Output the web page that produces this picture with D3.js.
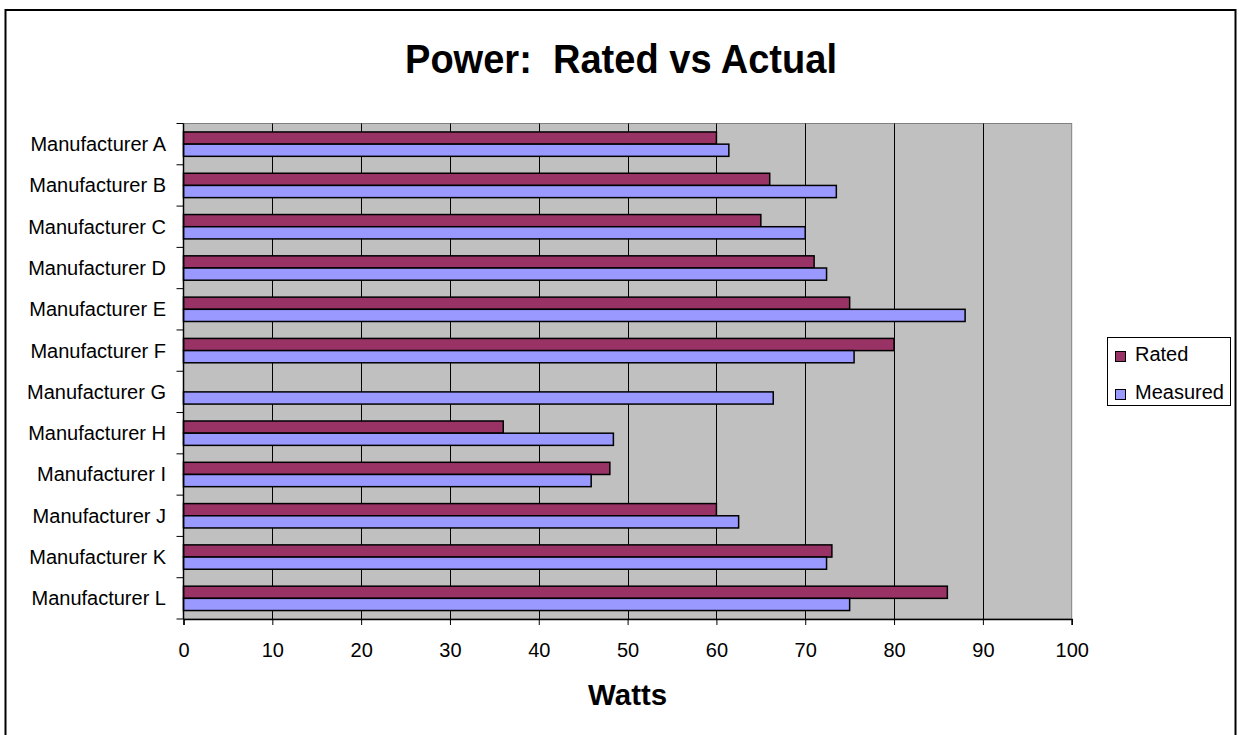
<!DOCTYPE html>
<html><head><meta charset="utf-8">
<script src="https://cdn.jsdelivr.net/npm/d3@7"></script>
<style>
html,body{margin:0;padding:0;background:#fff;}
svg{display:block;font-family:"Liberation Sans",Arial,sans-serif;}
text{white-space:pre;}
</style></head>
<body>
<svg id="chart" width="1242" height="735"></svg>
<script>
const categories = ["Manufacturer A","Manufacturer B","Manufacturer C","Manufacturer D","Manufacturer E","Manufacturer F","Manufacturer G","Manufacturer H","Manufacturer I","Manufacturer J","Manufacturer K","Manufacturer L"];
const seriesNames = ["Rated","Measured"];
const rated    = [60, 66, 65, 71, 75, 80, null, 36, 48, 60, 73, 86];
const measured = [61.4, 73.5, 70, 72.4, 88, 75.5, 66.4, 48.4, 45.9, 62.5, 72.4, 75];
const xTicks = [0,10,20,30,40,50,60,70,80,90,100];
const colors = ["#993366","#9999FF"];
const titleText = "Power:  Rated vs Actual";
const xTitle = "Watts";

const svg = d3.select("#chart");
const plot = {left:183.5, right:1071.7, top:123.5, bottom:619};

// outer chart border
svg.append("rect").attr("x",5.5).attr("y",10).attr("width",1230).attr("height",740)
  .attr("fill","#fff").attr("stroke","#000").attr("stroke-width",2);

const x = d3.scaleLinear().domain([0,100]).range([plot.left, plot.right]);
const y = d3.scaleBand().domain(categories).range([plot.top, plot.bottom])
  .paddingInner(0.41).paddingOuter(0.205);
const ySub = d3.scaleBand().domain(seriesNames).range([0, y.bandwidth()]);

// plot background
svg.append("rect").attr("x",plot.left).attr("y",plot.top)
  .attr("width",plot.right-plot.left).attr("height",plot.bottom-plot.top)
  .attr("fill","#C0C0C0").attr("stroke","#808080").attr("stroke-width",1);

// gridlines
svg.append("g").selectAll("line").data(xTicks.filter(t=>t>0 && t<100)).join("line")
  .attr("x1",d=>Math.round(x(d))+0.5).attr("x2",d=>Math.round(x(d))+0.5)
  .attr("y1",plot.top).attr("y2",plot.bottom)
  .attr("stroke","#000").attr("stroke-width",1);

// bars
const data = categories.map((c,i)=>({cat:c, vals:[rated[i], measured[i]]}));
const groups = svg.append("g").selectAll("g").data(data).join("g")
  .attr("transform",d=>`translate(0,${y(d.cat)})`);
groups.selectAll("rect").data(d=>d.vals.map((v,j)=>({v, s:seriesNames[j], j})).filter(e=>e.v!=null))
  .join("rect")
  .attr("x",x(0)).attr("y",d=>ySub(d.s))
  .attr("width",d=>x(d.v)-x(0)).attr("height",ySub.bandwidth())
  .attr("fill",d=>colors[d.j]).attr("stroke","#000").attr("stroke-width",1.5);

// x axis
const xAxis = d3.axisBottom(x).tickValues(xTicks).tickSize(6).tickPadding(18);
const gx = svg.append("g").attr("transform",`translate(0,${plot.bottom})`).call(xAxis);
gx.select(".domain").attr("stroke","#000").attr("stroke-width",1.5);
gx.selectAll(".tick line").attr("stroke","#000");
gx.selectAll("text").attr("font-size",20).attr("fill","#000")
  .attr("font-family","'Liberation Sans',Arial,sans-serif");

// y axis
const yEdges = d3.range(categories.length+1).map(i=>plot.top + i*(plot.bottom-plot.top)/categories.length);
svg.append("line").attr("x1",plot.left).attr("x2",plot.left).attr("y1",plot.top).attr("y2",plot.bottom)
  .attr("stroke","#000").attr("stroke-width",1.5);
svg.append("g").selectAll("line").data(yEdges).join("line")
  .attr("x1",plot.left-7).attr("x2",plot.left).attr("y1",d=>d).attr("y2",d=>d)
  .attr("stroke","#000").attr("stroke-width",1);
svg.append("g").selectAll("text").data(categories).join("text")
  .attr("x",166).attr("y",d=>y(d)+y.bandwidth()/2+7)
  .attr("text-anchor","end").attr("font-size",20).attr("fill","#000").text(d=>d);

// title
svg.append("text").attr("x",621).attr("y",72.5).attr("text-anchor","middle")
  .attr("xml:space","preserve")
  .attr("font-size",40).attr("font-weight","bold").attr("textLength",432)
  .attr("lengthAdjust","spacingAndGlyphs").text(titleText);

// x title
svg.append("text").attr("x",(plot.left+plot.right)/2).attr("y",705).attr("text-anchor","middle")
  .attr("font-size",30).attr("font-weight","bold").attr("textLength",79)
  .attr("lengthAdjust","spacingAndGlyphs").text(xTitle);

// legend
const lg = svg.append("g");
lg.append("rect").attr("x",1107.5).attr("y",337.5).attr("width",123).attr("height",68)
  .attr("fill","#fff").attr("stroke","#000").attr("stroke-width",1);
seriesNames.forEach((s,i)=>{
  const yy = 351 + i*38;
  lg.append("rect").attr("x",1115.5).attr("y",yy+0.5).attr("width",10).attr("height",10)
    .attr("fill",colors[i]).attr("stroke","#000").attr("stroke-width",1);
  lg.append("text").attr("x",1135).attr("y",yy+10).attr("font-size",20).attr("fill","#000").text(s);
});
</script>
</body></html>
